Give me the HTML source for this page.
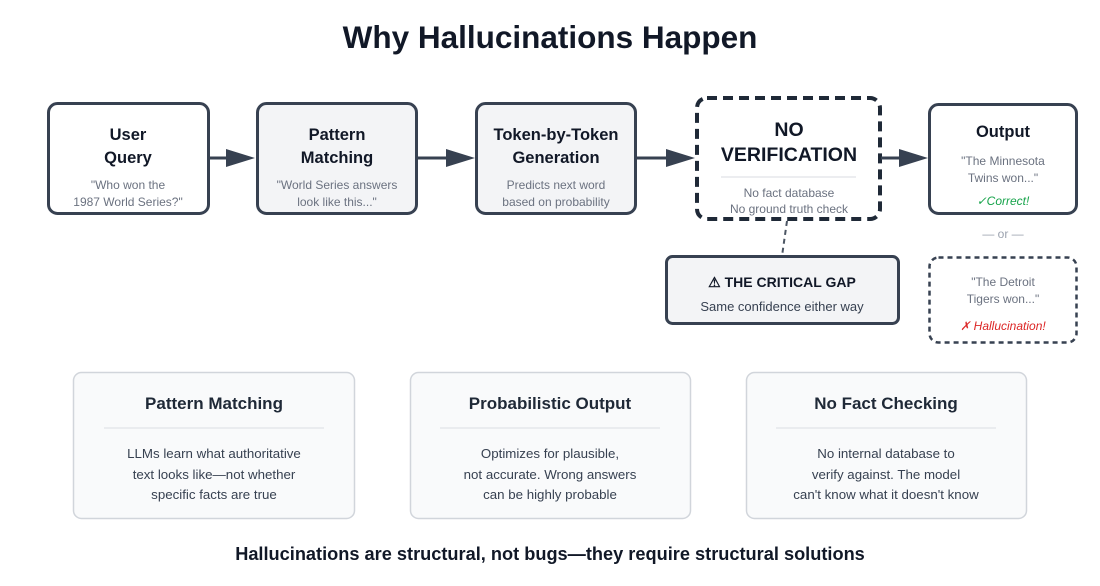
<!DOCTYPE html>
<html><head><meta charset="utf-8"><style>
body{margin:0;background:#fff;}
svg{display:block;font-family:"Liberation Sans",Arial,sans-serif;}
</style></head><body>
<svg width="1100" height="586" viewBox="0 0 1100 586">
<text x="550" y="48" text-anchor="middle" font-size="31.5" font-weight="bold" fill="#111827">Why Hallucinations Happen</text>
<g stroke="#374151" stroke-width="3">
<rect x="48.5" y="103.5" width="160" height="110" rx="9" fill="#fff"/>
<rect x="257.5" y="103.5" width="159" height="110" rx="9" fill="#f3f4f6"/>
<rect x="476.5" y="103.5" width="159" height="110" rx="9" fill="#f3f4f6"/>
<rect x="929.5" y="104.5" width="147" height="109" rx="9" fill="#fff"/>
<rect x="666.5" y="256.5" width="232" height="67" rx="6" fill="#f3f4f6"/>
</g>
<rect x="697" y="98" width="183" height="121" rx="10" fill="#fff" stroke="#1f2937" stroke-width="4" stroke-dasharray="10,6"/>
<rect x="929.5" y="257.5" width="147" height="85" rx="9" fill="#fff" stroke="#374151" stroke-width="2.5" stroke-dasharray="5,4"/>
<line x1="787" y1="221" x2="782" y2="256" stroke="#4b5563" stroke-width="2" stroke-dasharray="5,4"/>
<g stroke="#374151" stroke-width="3" fill="#374151">
<line x1="208" y1="158" x2="230" y2="158"/><polygon points="226,149 255,158 226,167" stroke="none"/>
<line x1="417" y1="158" x2="450" y2="158"/><polygon points="446,149 475,158 446,167" stroke="none"/>
<line x1="636" y1="158" x2="670" y2="158"/><polygon points="666,149 695,158 666,167" stroke="none"/>
<line x1="881" y1="158" x2="903" y2="158"/><polygon points="899,149 928,158 899,167" stroke="none"/>
</g>
<g text-anchor="middle" font-weight="bold" fill="#111827" font-size="16.5">
<text x="128" y="140">User</text><text x="128" y="163">Query</text>
<text x="337" y="140">Pattern</text><text x="337" y="163">Matching</text>
<text x="556" y="140">Token-by-Token</text><text x="556" y="163">Generation</text>
<text x="789" y="136" font-size="19.5">NO</text><text x="789" y="161" font-size="19.5">VERIFICATION</text>
<text x="1003" y="137">Output</text>
<text x="782" y="287" font-size="14">⚠ THE CRITICAL GAP</text>
</g>
<line x1="721" y1="177" x2="856" y2="177" stroke="#e5e7eb" stroke-width="1.5"/>
<g text-anchor="middle" fill="#6b7280" font-size="12">
<text x="128" y="189">"Who won the</text><text x="128" y="206">1987 World Series?"</text>
<text x="337" y="189">"World Series answers</text><text x="337" y="206">look like this..."</text>
<text x="556" y="189">Predicts next word</text><text x="556" y="206">based on probability</text>
<text x="789" y="197">No fact database</text><text x="789" y="213">No ground truth check</text>
<text x="1003" y="165">"The Minnesota</text><text x="1003" y="182">Twins won..."</text>
<text x="1003" y="286">"The Detroit</text><text x="1003" y="303">Tigers won..."</text>
<text x="1003" y="238" fill="#9ca3af">— or —</text>
<text x="1003" y="205" fill="#16a34a" font-style="italic">✓Correct!</text>
<text x="1003" y="330" fill="#dc2626" font-style="italic">✗ Hallucination!</text>
<text x="782" y="311" fill="#374151" font-size="13">Same confidence either way</text>
</g>
<g fill="#f9fafb" stroke="#d1d5db" stroke-width="1.5">
<rect x="73.5" y="372.5" width="281" height="146" rx="8"/>
<rect x="410.5" y="372.5" width="280" height="146" rx="8"/>
<rect x="746.5" y="372.5" width="280" height="146" rx="8"/>
</g>
<g stroke="#e5e7eb" stroke-width="1.5">
<line x1="104" y1="428" x2="324" y2="428"/><line x1="440" y1="428" x2="660" y2="428"/><line x1="776" y1="428" x2="996" y2="428"/>
</g>
<g text-anchor="middle" font-weight="bold" fill="#1f2937" font-size="17">
<text x="214" y="409">Pattern Matching</text><text x="550" y="409">Probabilistic Output</text><text x="886" y="409">No Fact Checking</text>
</g>
<g text-anchor="middle" fill="#374151" font-size="13.3">
<text x="214" y="458">LLMs learn what authoritative</text><text x="214" y="479">text looks like—not whether</text><text x="214" y="499">specific facts are true</text>
<text x="550" y="458">Optimizes for plausible,</text><text x="550" y="479">not accurate. Wrong answers</text><text x="550" y="499">can be highly probable</text>
<text x="886" y="458">No internal database to</text><text x="886" y="479">verify against. The model</text><text x="886" y="499">can't know what it doesn't know</text>
</g>
<text x="550" y="560" text-anchor="middle" font-size="18.2" font-weight="bold" fill="#111827">Hallucinations are structural, not bugs—they require structural solutions</text>
</svg>
</body></html>
